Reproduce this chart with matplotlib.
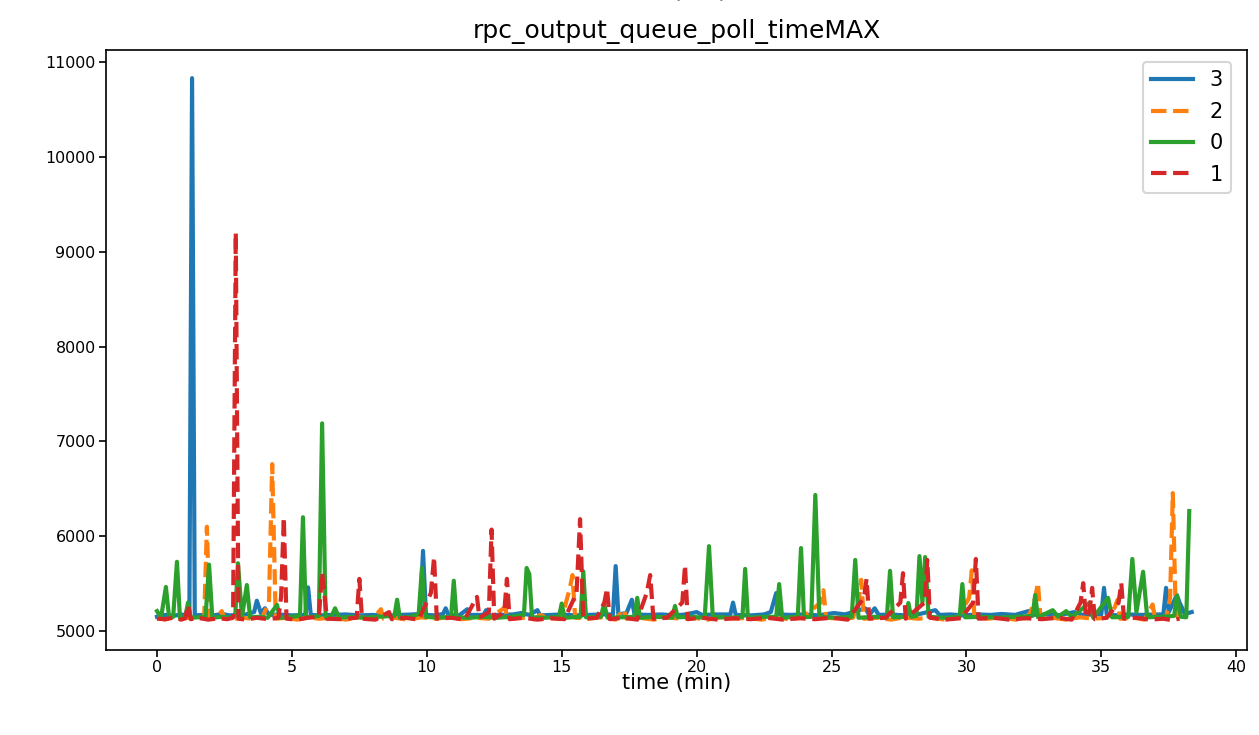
import matplotlib
matplotlib.use("Agg")
import matplotlib.pyplot as plt

# (time in minutes, value) samples, one list per series
s3 = [(0.0, 5150), (0.3, 5170), (0.6, 5160), (0.9, 5175), (1.2, 5160), (1.30, 10830), (1.4, 5165),
      (1.7, 5170), (2.0, 5160), (2.4, 5180), (2.7, 5165), (3.0, 5170), (3.3, 5175), (3.6, 5200),
      (3.7, 5320), (3.85, 5190), (4.0, 5240), (4.15, 5170), (4.5, 5175), (5.0, 5165), (5.5, 5170),
      (5.6, 5460), (5.7, 5170), (6.0, 5165), (6.5, 5170), (7.0, 5175), (7.5, 5165), (8.0, 5170),
      (8.5, 5160), (9.0, 5170), (9.5, 5175), (9.75, 5180), (9.86, 5845), (9.97, 5170), (10.3, 5165),
      (10.6, 5180), (10.7, 5240), (10.8, 5170), (11.2, 5165), (11.5, 5230), (11.6, 5170), (12.1, 5170),
      (12.2, 5220), (12.3, 5165), (12.7, 5170), (13.2, 5175), (13.5, 5190), (13.8, 5170), (14.1, 5220),
      (14.2, 5165), (14.6, 5170), (15.0, 5175), (15.5, 5165), (16.0, 5170), (16.5, 5175), (16.9, 5175),
      (17.0, 5685), (17.1, 5175), (17.4, 5190), (17.6, 5330), (17.7, 5175), (18.2, 5170), (18.7, 5175),
      (19.2, 5165), (19.6, 5175), (20.0, 5200), (20.2, 5170), (20.7, 5175), (21.25, 5175), (21.35, 5300),
      (21.45, 5170), (22.0, 5165), (22.5, 5175), (22.75, 5200), (22.95, 5400), (23.05, 5175), (23.5, 5170),
      (24.0, 5175), (24.5, 5165), (25.1, 5190), (25.5, 5175), (26.25, 5240), (26.4, 5170), (26.6, 5240),
      (26.75, 5170), (27.2, 5175), (27.7, 5165), (28.2, 5175), (28.85, 5220), (29.0, 5170), (29.4, 5175),
      (29.9, 5165), (30.4, 5175), (30.9, 5170), (31.3, 5180), (31.8, 5170), (32.3, 5210), (32.45, 5170),
      (32.9, 5175), (33.4, 5165), (34.0, 5200), (34.3, 5170), (34.7, 5175), (35.0, 5175), (35.1, 5455),
      (35.2, 5175), (35.6, 5165), (36.0, 5175), (36.5, 5170), (37.0, 5175), (37.3, 5175), (37.4, 5455),
      (37.5, 5200), (37.8, 5380), (37.9, 5300), (38.1, 5180), (38.35, 5200)]

s2 = [(0.0, 5140), (0.3, 5120), (0.6, 5150), (0.9, 5130), (1.2, 5140), (1.5, 5125), (1.75, 5150),
      (1.85, 6100), (1.95, 5130), (2.2, 5140), (2.4, 5210), (2.5, 5130), (2.8, 5125), (3.2, 5140),
      (3.5, 5130), (3.9, 5145), (4.15, 5300), (4.27, 6760), (4.4, 5130), (4.8, 5140), (5.2, 5120),
      (5.6, 5145), (6.0, 5130), (6.5, 5140), (7.0, 5120), (7.5, 5145), (8.0, 5130), (8.3, 5230),
      (8.4, 5130), (8.8, 5140), (9.3, 5120), (9.8, 5145), (10.3, 5130), (10.8, 5145), (11.3, 5125),
      (11.8, 5140), (12.3, 5130), (12.9, 5250), (13.0, 5130), (13.5, 5140), (14.0, 5125), (14.2, 5170),
      (14.5, 5135), (15.0, 5130), (15.3, 5450), (15.4, 5590), (15.5, 5140), (16.0, 5130), (16.5, 5145),
      (17.0, 5120), (17.3, 5230), (17.4, 5130), (17.9, 5140), (18.4, 5120), (18.9, 5145), (19.4, 5130),
      (19.9, 5140), (20.4, 5120), (20.9, 5145), (21.4, 5130), (21.9, 5140), (22.4, 5120), (22.9, 5145),
      (23.4, 5125), (23.9, 5140), (24.6, 5300), (24.7, 5430), (24.8, 5140), (25.3, 5130), (25.8, 5140),
      (26.0, 5300), (26.1, 5540), (26.2, 5130), (26.7, 5140), (27.2, 5120), (27.7, 5145), (28.2, 5130),
      (28.7, 5140), (29.2, 5120), (29.7, 5145), (30.1, 5350), (30.2, 5640), (30.3, 5140), (30.8, 5130),
      (31.3, 5145), (31.8, 5120), (32.3, 5140), (32.55, 5350), (32.65, 5510), (32.75, 5130), (33.2, 5140),
      (33.7, 5120), (34.2, 5145), (34.7, 5130), (35.2, 5140), (35.5, 5250), (35.6, 5330), (35.7, 5130),
      (36.2, 5140), (36.6, 5120), (36.9, 5280), (37.0, 5130), (37.4, 5140), (37.55, 5350), (37.65, 6455),
      (37.75, 5300), (37.85, 5140), (38.1, 5130)]

s0 = [(0.0, 5210), (0.15, 5140), (0.33, 5465), (0.45, 5140), (0.6, 5150), (0.74, 5730), (0.85, 5140),
      (1.05, 5150), (1.15, 5300), (1.25, 5140), (1.5, 5145), (1.8, 5150), (1.93, 5700), (2.05, 5140),
      (2.4, 5150), (2.7, 5140), (2.9, 5160), (3.0, 5715), (3.15, 5150), (3.33, 5485), (3.45, 5145),
      (3.8, 5150), (4.1, 5140), (4.45, 5275), (4.55, 5140), (5.0, 5150), (5.3, 5160), (5.41, 6200),
      (5.52, 5145), (5.8, 5150), (6.0, 5160), (6.12, 7190), (6.25, 5150), (6.45, 5145), (6.6, 5240),
      (6.75, 5140), (7.2, 5150), (7.7, 5140), (8.2, 5150), (8.8, 5160), (8.9, 5330), (9.0, 5140),
      (9.4, 5150), (9.7, 5180), (9.82, 5665), (9.95, 5150), (10.4, 5140), (10.9, 5150), (11.0, 5530),
      (11.1, 5145), (11.6, 5140), (12.1, 5150), (12.6, 5140), (13.1, 5150), (13.6, 5170), (13.7, 5665),
      (13.8, 5600), (13.9, 5145), (14.4, 5140), (14.9, 5150), (15.0, 5290), (15.1, 5140), (15.7, 5150),
      (15.8, 5630), (15.9, 5145), (16.45, 5150), (16.57, 5285), (16.7, 5140), (17.7, 5150), (17.8, 5350),
      (17.9, 5140), (18.5, 5150), (19.1, 5140), (19.2, 5265), (19.3, 5145), (19.8, 5150), (20.3, 5140),
      (20.46, 5895), (20.6, 5150), (21.2, 5140), (21.7, 5150), (21.8, 5655), (21.9, 5140), (22.5, 5150),
      (22.95, 5150), (23.06, 5495), (23.17, 5140), (23.75, 5150), (23.87, 5875), (23.98, 5145),
      (24.25, 5150), (24.4, 6435), (24.55, 5150), (25.2, 5140), (25.75, 5150), (25.88, 5750), (26.0, 5140),
      (26.6, 5150), (27.05, 5140), (27.17, 5635), (27.28, 5145), (27.75, 5150), (27.85, 5295), (27.95, 5150),
      (28.15, 5160), (28.26, 5790), (28.37, 5300), (28.47, 5780), (28.6, 5150), (29.2, 5140), (29.75, 5150),
      (29.85, 5495), (29.95, 5145), (30.6, 5150), (31.2, 5140), (31.8, 5150), (32.45, 5160), (32.55, 5380),
      (32.65, 5145), (33.2, 5220), (33.4, 5150), (33.7, 5210), (33.9, 5145), (34.55, 5295), (34.7, 5140),
      (35.25, 5350), (35.4, 5145), (36.0, 5150), (36.15, 5760), (36.3, 5200), (36.55, 5625), (36.7, 5145),
      (37.2, 5150), (37.7, 5160), (37.8, 5370), (37.95, 5150), (38.15, 5145), (38.26, 6265)]

s1 = [(0.0, 5130), (0.3, 5125), (0.6, 5140), (0.9, 5120), (1.05, 5135), (1.15, 5275), (1.25, 5125),
      (1.5, 5140), (1.9, 5120), (2.3, 5135), (2.6, 5125), (2.82, 5140), (2.92, 9200), (3.02, 5130),
      (3.3, 5120), (3.7, 5140), (4.1, 5125), (4.5, 5140), (4.6, 5360), (4.7, 6200), (4.8, 5130),
      (5.2, 5120), (5.6, 5140), (6.0, 5150), (6.12, 5620), (6.2, 5400), (6.3, 5130), (6.8, 5125),
      (7.4, 5140), (7.5, 5550), (7.6, 5130), (8.1, 5120), (8.6, 5200), (8.7, 5125), (9.2, 5140),
      (9.7, 5120), (10.15, 5400), (10.27, 5780), (10.37, 5130), (10.9, 5140), (11.4, 5120), (11.86, 5360),
      (11.95, 5140), (12.3, 5200), (12.4, 6070), (12.5, 5130), (12.87, 5200), (12.97, 5550), (13.07, 5125),
      (13.6, 5140), (14.1, 5120), (14.6, 5135), (15.1, 5125), (15.55, 5400), (15.68, 6180), (15.8, 5130),
      (16.3, 5140), (16.58, 5300), (16.68, 5450), (16.78, 5125), (17.3, 5140), (17.8, 5120), (18.15, 5400),
      (18.28, 5590), (18.4, 5130), (18.9, 5140), (19.47, 5300), (19.57, 5695), (19.67, 5125), (20.2, 5140),
      (20.8, 5120), (21.4, 5135), (22.0, 5125), (22.6, 5140), (23.2, 5120), (23.8, 5135), (24.4, 5125),
      (25.0, 5140), (25.6, 5120), (26.2, 5350), (26.3, 5550), (26.4, 5130), (27.0, 5140), (27.55, 5300),
      (27.65, 5610), (27.75, 5130), (28.45, 5300), (28.55, 5750), (28.65, 5140), (29.2, 5120), (29.8, 5135),
      (30.25, 5300), (30.35, 5760), (30.45, 5130), (31.0, 5140), (31.6, 5120), (32.2, 5135), (32.8, 5125),
      (33.4, 5140), (33.9, 5120), (34.23, 5300), (34.33, 5505), (34.43, 5140), (34.56, 5200), (34.66, 5455),
      (34.76, 5125), (35.2, 5140), (35.64, 5300), (35.74, 5505), (35.84, 5130), (36.3, 5140), (36.8, 5120),
      (37.3, 5130), (37.6, 5115), (37.9, 5130)]

labels = ["3", "2", "0", "1"]
colors = ["#1f77b4", "#ff7f0e", "#2ca02c", "#d62728"]
styles = ["-", "--", "-", "--"]

figure = plt.figure(figsize=(1259 / 150, 735 / 150), dpi=150)
axis = figure.add_axes([106 / 1259, 85 / 735, 1141 / 1259, 600 / 735])

for series, label, color, style in zip([s3, s2, s0, s1], labels, colors, styles):
    t, v = zip(*series)
    axis.plot(t, v, style, color=color, linewidth=2.0, label=label)

axis.set_xlim(-1.89, 40.4)
axis.set_ylim(4800, 11127)
axis.set_xticks(range(0, 45, 5))
axis.set_yticks(range(5000, 12000, 1000))
axis.tick_params(labelsize=7.6, pad=1.5)
axis.set_xlabel("time (min)", fontsize=10, labelpad=-1)
axis.set_title("rpc_output_queue_poll_timeMAX", fontsize=12)
axis.legend(loc="upper right", fontsize=10, bbox_to_anchor=(0.986, 0.98),
            borderaxespad=0, labelspacing=0.55)

# the figure-level heading sits almost entirely above the saved area
figure.text(700 / 1259, 1.0 + 3 / 735, "(ms)", ha="center", va="baseline", fontsize=12)

figure.savefig("out.png", dpi=150)
